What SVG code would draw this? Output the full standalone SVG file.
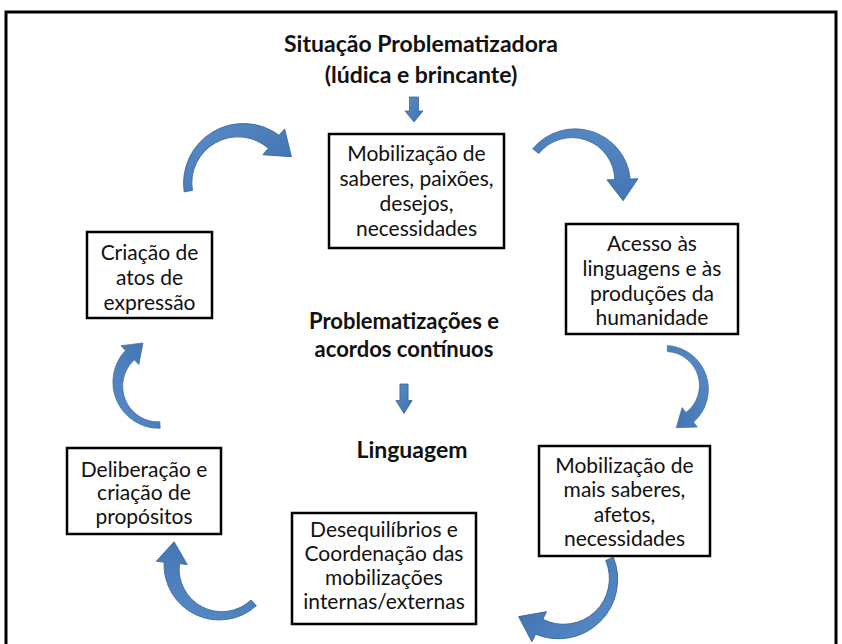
<svg xmlns="http://www.w3.org/2000/svg" xmlns:xlink="http://www.w3.org/1999/xlink" width="842" height="644" viewBox="0 0 842 644">
<style>
  .box { fill: #ffffff; stroke: #000000; stroke-width: 2.5; }
  .t { font-family: Lato, "Open Sans", "Liberation Sans", sans-serif; font-size: 21px; fill: #111111; text-anchor: middle; }
  .b { font-family: Lato, "Open Sans", "Liberation Sans", sans-serif; font-size: 23px; font-weight: bold; fill: #111111; text-anchor: middle; }
  .c { font-size: 22px; }
  .arr { fill: url(#g); stroke: #3A679C; stroke-width: 0.8; }
</style>
<defs>
  <linearGradient id="g" x1="0" y1="0" x2="1" y2="1">
    <stop offset="0" stop-color="#5A8CC8"/>
    <stop offset="1" stop-color="#3F72B0"/>
  </linearGradient>
  <path id="carrow" d="M -54,0 A 57 57 0 0 1 44.4,-37.3 L 50.6,-42.4 L 52.4,-15.2 L 26,-21.8 L 32.2,-27 A 44 44 0 0 0 -46,0 Z"/>
  <path id="darrow" d="M -4.5,0 L 4.5,0 L 4.5,14 L 9,14 L 0,25 L -9,14 L -4.5,14 Z"/>
</defs>
<rect x="0" y="0" width="842" height="644" fill="#ffffff"/>
<rect x="6" y="12" width="830" height="650" fill="none" stroke="#000000" stroke-width="3"/>

<g id="title">
  <text class="b" x="421" y="52">Situação Problematizadora</text>
  <text class="b" x="421" y="83">(lúdica e brincante)</text>
</g>
<g id="center">
  <text class="b c" x="404" y="329">Problematizações e</text>
  <text class="b c" x="404" y="357">acordos contínuos</text>
  <text class="b" x="412" y="458">Linguagem</text>
</g>

<g id="connectors">
  <use xlink:href="#darrow" class="arr" transform="translate(414,97)"/>
  <use xlink:href="#darrow" class="arr" transform="translate(404,384) scale(0.9,1.18)"/>
  <use xlink:href="#carrow" class="arr" transform="translate(240,182) rotate(-10) scale(1.05)"/>
  <use xlink:href="#carrow" class="arr" transform="translate(574,181) rotate(38) scale(0.97)"/>
  <use xlink:href="#carrow" class="arr" transform="translate(666,387) rotate(92) scale(0.77)"/>
  <use xlink:href="#carrow" class="arr" transform="translate(562,580) rotate(156) scale(1.04)"/>
  <use xlink:href="#carrow" class="arr" transform="translate(220,568) rotate(226) scale(0.97)"/>
  <use xlink:href="#carrow" class="arr" transform="translate(157.7,384.6) rotate(266.7) scale(0.81)"/>
</g>

<g id="n1">
  <rect class="box" x="329" y="134" width="175" height="114"/>
  <text class="t" x="416.5" y="161">Mobilização de</text>
  <text class="t" x="416.5" y="186">saberes, paixões,</text>
  <text class="t" x="416.5" y="211">desejos,</text>
  <text class="t" x="416.5" y="236">necessidades</text>
</g>
<g id="n2">
  <rect class="box" x="566" y="224" width="172" height="110"/>
  <text class="t" x="652" y="251">Acesso às</text>
  <text class="t" x="652" y="276">linguagens e às</text>
  <text class="t" x="652" y="301">produções da</text>
  <text class="t" x="652" y="325">humanidade</text>
</g>
<g id="n3">
  <rect class="box" x="87" y="232" width="125" height="86"/>
  <text class="t" x="149.5" y="260">Criação de</text>
  <text class="t" x="149.5" y="285">atos de</text>
  <text class="t" x="149.5" y="310">expressão</text>
</g>
<g id="n4">
  <rect class="box" x="67" y="448" width="154" height="86"/>
  <text class="t" x="144" y="477">Deliberação e</text>
  <text class="t" x="144" y="500">criação de</text>
  <text class="t" x="144" y="524">propósitos</text>
</g>
<g id="n5">
  <rect class="box" x="292" y="513" width="184" height="111"/>
  <text class="t" x="384" y="537">Desequilíbrios e</text>
  <text class="t" x="384" y="561">Coordenação das</text>
  <text class="t" x="384" y="585">mobilizações</text>
  <text class="t" x="384" y="609">internas/externas</text>
</g>
<g id="n6">
  <rect class="box" x="539" y="446" width="171" height="110"/>
  <text class="t" x="624.5" y="473">Mobilização de</text>
  <text class="t" x="624.5" y="497">mais saberes,</text>
  <text class="t" x="624.5" y="522">afetos,</text>
  <text class="t" x="624.5" y="546">necessidades</text>
</g>
</svg>
